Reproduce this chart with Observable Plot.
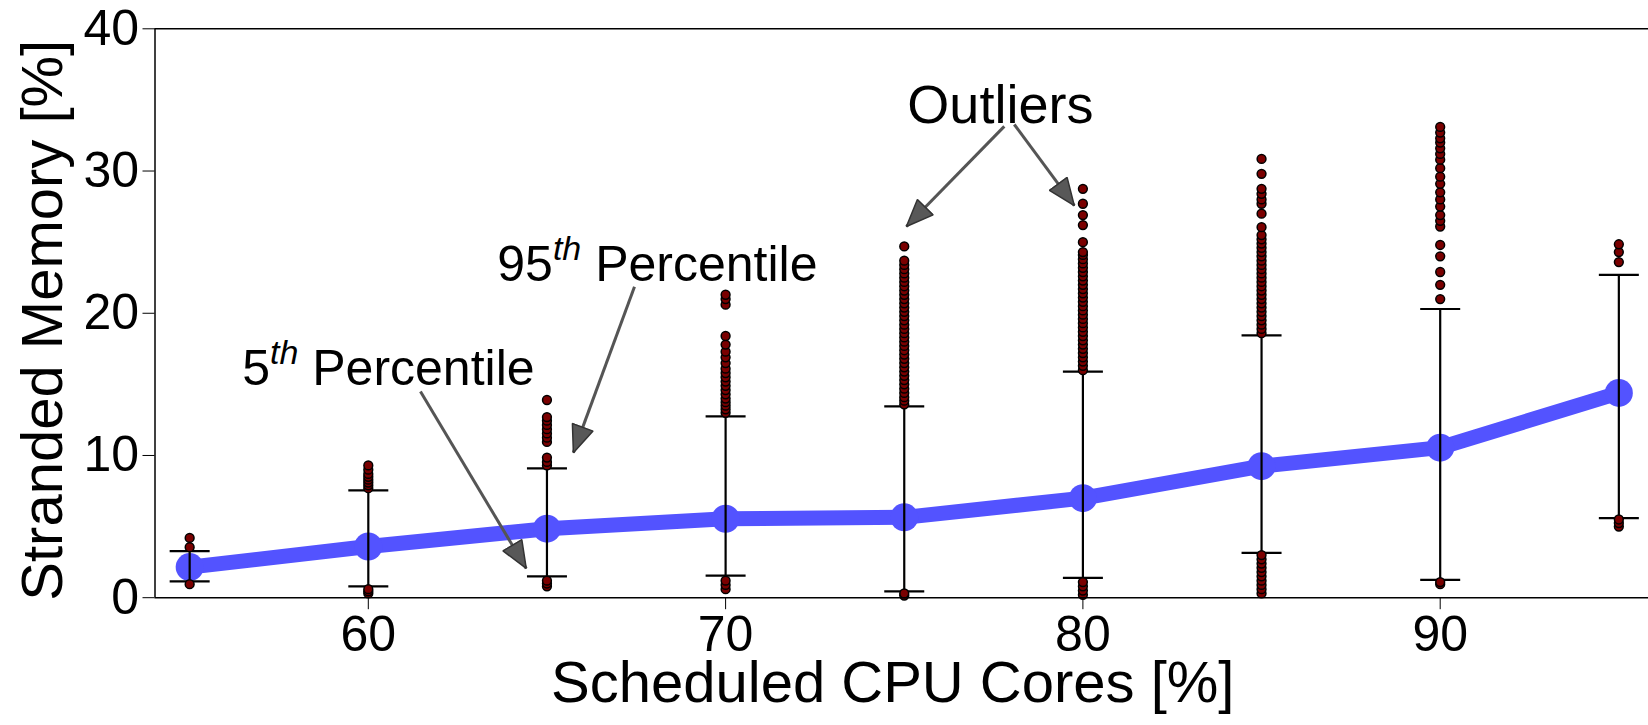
<!DOCTYPE html>
<html><head><meta charset="utf-8">
<script src="https://cdn.jsdelivr.net/npm/d3@7"></script>
<script src="https://cdn.jsdelivr.net/npm/@observablehq/plot@0.6"></script>
<style>body{margin:0;background:#fff} svg{display:block}</style>
</head><body><div id="chart"></div>
<script>
// ---- data ----
const cpuCores = [55, 60, 65, 70, 75, 80, 85, 90, 95];
const meanStranded = [2.15, 3.6, 4.85, 5.55, 5.65, 7.0, 9.25, 10.55, 14.4];
const p5Stranded = [1.15, 0.8, 1.5, 1.55, 0.45, 1.4, 3.15, 1.25, 5.6];
const p95Stranded = [3.27, 7.55, 9.1, 12.75, 13.45, 15.9, 18.45, 20.3, 22.7];

const outliers55 = [0.95, 3.55, 4.2];
const outliers60 = [0.3, 0.45, 0.6, 7.7, 7.9, 8.1, 8.3, 8.5, 8.7, 9.0, 9.3];
const outliers65 = [0.8, 1.0, 1.2, 9.3, 9.55, 9.85, 10.95, 11.25, 11.55, 11.85, 12.15, 12.45, 12.7, 13.9];
const outliers70 = [0.6, 0.9, 1.2, 13.0, 13.25, 13.5, 13.75, 14.0, 14.3, 14.6, 14.9, 15.2, 15.5, 15.8, 16.1, 16.5, 16.9, 17.3, 17.8, 18.4, 20.6, 21.0, 21.3];
const outliers75 = [0.15, 0.3, 13.6, 13.85, 14.1, 14.4, 14.7, 15.0, 15.3, 15.6, 15.9, 16.2, 16.5, 16.8, 17.1, 17.4, 17.7, 18.0, 18.3, 18.6, 18.9, 19.2, 19.5, 19.8, 20.1, 20.4, 20.7, 21.0, 21.3, 21.6, 21.9, 22.2, 22.5, 22.8, 23.1, 23.4, 23.7, 24.7];
const outliers80 = [0.2, 0.5, 0.8, 1.1, 16.0, 16.3, 16.6, 16.9, 17.2, 17.5, 17.8, 18.1, 18.4, 18.7, 19.0, 19.3, 19.6, 19.9, 20.2, 20.5, 20.8, 21.1, 21.4, 21.7, 22.0, 22.3, 22.6, 22.9, 23.2, 23.5, 23.8, 24.1, 24.3, 25.0, 26.2, 26.9, 27.7, 28.75];
const outliers85 = [0.3, 0.6, 0.9, 1.2, 1.5, 1.8, 2.1, 2.4, 2.7, 3.0, 18.6, 18.9, 19.2, 19.5, 19.8, 20.1, 20.4, 20.7, 21.0, 21.3, 21.6, 21.9, 22.2, 22.5, 22.8, 23.1, 23.4, 23.7, 24.0, 24.3, 24.6, 24.9, 25.2, 25.5, 26.05, 27.0, 27.7, 28.0, 28.4, 28.75, 29.8, 30.85];
const outliers90 = [0.95, 1.1, 21.0, 22.0, 22.9, 24.0, 24.8, 26.1, 26.5, 26.9, 27.5, 28.0, 28.5, 29.1, 29.6, 30.2, 30.8, 31.2, 31.6, 32.0, 32.3, 32.7, 33.1];
const outliers95 = [5.0, 5.25, 5.5, 23.6, 24.3, 24.85];
const outlierGroups = [outliers55, outliers60, outliers65, outliers70, outliers75, outliers80, outliers85, outliers90, outliers95];

const xTicks = [60, 70, 80, 90];
const yTicks = [0, 10, 20, 30, 40];
const xLabel = "Scheduled CPU Cores [%]";
const yLabel = "Stranded Memory [%]";

// annotation labels (first one centred, the percentile ones left-aligned)
const outlierLabel = ["Outliers"];
const outlierLabelX = [77.69];
const outlierLabelY = [34.6];
const percentileLabels = ["95th Percentile", "5th Percentile"];
const percentileLabelX = [63.61, 56.47];
const percentileLabelY = [23.36, 16.05];

const arrowFromX = [77.80, 78.08, 67.45, 61.46];
const arrowFromY = [33.14, 33.27, 21.87, 14.5];
const arrowToX = [75.06, 79.76, 65.74, 64.42];
const arrowToY = [26.10, 27.57, 10.2, 2.06];

// ---- tables built from the arrays ----
const summary = cpuCores.map((c, i) => ({cpu: c, mean: meanStranded[i], p5: p5Stranded[i], p95: p95Stranded[i]}));
const outlierRows = outlierGroups.flatMap((g, i) => g.map(v => ({cpu: cpuCores[i], value: v})));
const outlierAnn = outlierLabel.map((t, i) => ({t, x: outlierLabelX[i], y: outlierLabelY[i]}));
const percentileAnn = percentileLabels.map((t, i) => ({t, x: percentileLabelX[i], y: percentileLabelY[i]}));
const arrows = arrowFromX.map((x, i) => ({x1: x, y1: arrowFromY[i], x2: arrowToX[i], y2: arrowToY[i]}));

const capSymbol = {draw(ctx) { ctx.moveTo(-20, 0); ctx.lineTo(20, 0); }};
const arrowHead = (color, context) => {
  const m = d3.create("svg:marker")
    .attr("viewBox", "-28 -13 30 26")
    .attr("markerWidth", 30).attr("markerHeight", 26)
    .attr("markerUnits", "userSpaceOnUse")
    .attr("orient", "auto");
  m.append("path").attr("d", "M0,0L-27,-11L-27,11Z")
    .attr("fill", "#585858").attr("stroke", "#333").attr("stroke-width", 1.5);
  return m.node();
};

const blue = "#5353ff";
const xMin = 54.03, xMax = 95.83;

const plot = Plot.plot({
  width: 1648,
  height: 725,
  marginLeft: 154.5,
  marginRight: 0,
  marginTop: 28.3,
  marginBottom: 127.8,
  style: {fontFamily: "'Liberation Sans', Arial, sans-serif", background: "#fff", color: "#000"},
  x: {domain: [xMin, xMax]},
  y: {domain: [0, 40]},
  marks: [
    Plot.line(summary, {x: "cpu", y: "mean", stroke: blue, strokeWidth: 15, strokeLinejoin: "round", strokeLinecap: "round"}),
    Plot.dot(summary, {x: "cpu", y: "mean", r: 14, fill: blue}),
    Plot.ruleX(summary, {x: "cpu", y1: "p5", y2: "p95", stroke: "#000", strokeWidth: 2.2}),
    Plot.dot(summary, {x: "cpu", y: "p95", symbol: capSymbol, r: 1, fill: "none", stroke: "#000", strokeWidth: 2.2}),
    Plot.dot(summary, {x: "cpu", y: "p5", symbol: capSymbol, r: 1, fill: "none", stroke: "#000", strokeWidth: 2.2}),
    Plot.dot(outlierRows, {x: "cpu", y: "value", r: 4.4, fill: "#7a0000", stroke: "#000", strokeWidth: 1.5}),
    Plot.ruleY([0, 40], {stroke: "#000", strokeWidth: 1.5}),
    Plot.ruleX([xMin], {stroke: "#000", strokeWidth: 1.5}),
    Plot.axisX({ticks: xTicks, tickSize: 12, tickPadding: 6, fontSize: 50, label: null, tickFormat: d => String(d)}),
    Plot.axisY({ticks: yTicks, tickSize: 12, tickPadding: 4, fontSize: 50, label: null, tickFormat: d => String(d)}),
    Plot.link(arrows, {x1: "x1", y1: "y1", x2: "x2", y2: "y2", stroke: "#555", strokeWidth: 3, markerEnd: arrowHead}),
    Plot.text(outlierAnn, {x: "x", y: "y", text: "t", textAnchor: "middle", fontSize: 54, fill: "#000"}),
    Plot.text(percentileAnn, {x: "x", y: "y", text: "t", textAnchor: "start", fontSize: 50, fill: "#000"}),
    Plot.text([xLabel], {frameAnchor: "bottom", textAnchor: "middle", lineAnchor: "bottom", dx: -9, dy: 104, fontSize: 58, fill: "#000"}),
    Plot.text([yLabel], {frameAnchor: "left", textAnchor: "middle", lineAnchor: "middle", rotate: -90, dx: -112, dy: 7, fontSize: 58, fill: "#000"})
  ]
});

// superscript "th" in percentile annotations
d3.select(plot).selectAll("text").each(function () {
  const s = this.textContent;
  const m = /^(\d+)th (Percentile)$/.exec(s);
  if (m && this.childElementCount === 0) {
    const t = d3.select(this);
    t.text(null);
    t.append("tspan").text(m[1]);
    t.append("tspan").text("th").attr("font-style", "italic").attr("font-size", "0.68em").attr("dy", "-0.62em");
    t.append("tspan").text(" " + m[2]).attr("dy", "0.42em");
  }
});
document.getElementById("chart").append(plot);
</script>
</body></html>
